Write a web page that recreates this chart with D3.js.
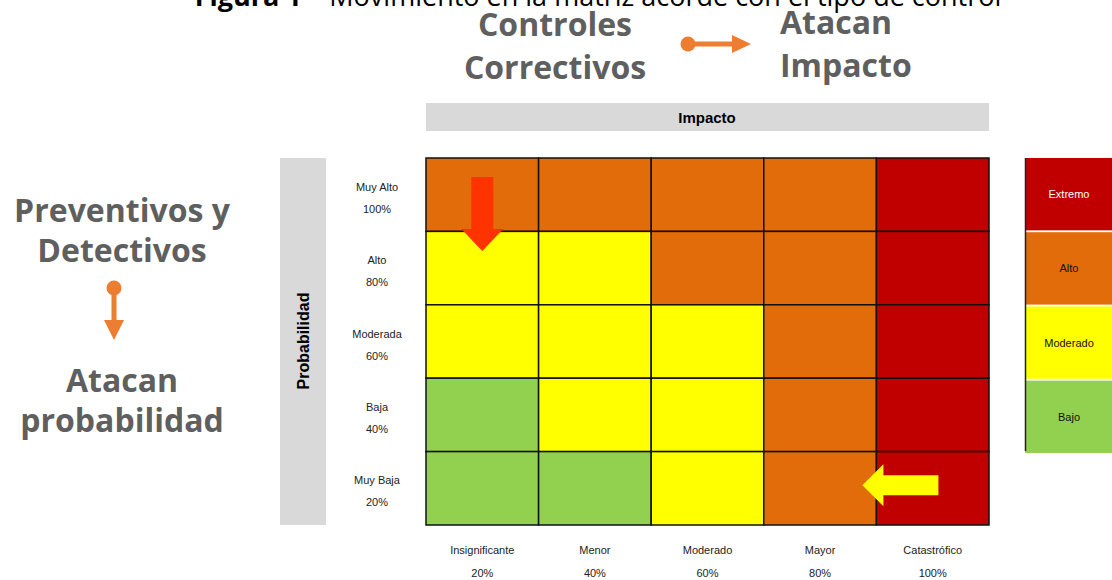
<!DOCTYPE html>
<html>
<head>
<meta charset="utf-8">
<script src="https://cdn.jsdelivr.net/npm/d3@7"></script>
<style>
  html, body { margin: 0; padding: 0; background: #fff; }
  svg { display: block; }
  .big { font-family: "Open Sans", sans-serif; font-weight: 700; fill: #5f5f5f; }
  .small { font-family: "Liberation Sans", Arial, sans-serif; font-size: 11px; fill: #222; }
</style>
</head>
<body>
<div id="chart"></div>
<script>
// ---------- Data ----------
const impactLabels = ['Insignificante', 'Menor', 'Moderado', 'Mayor', 'Catastrófico'];
const impactPct = ['20%', '40%', '60%', '80%', '100%'];
const probLabels = ['Muy Alto', 'Alto', 'Moderada', 'Baja', 'Muy Baja'];
const probPct = ['100%', '80%', '60%', '40%', '20%'];

// risk level per cell, rows top (Muy Alto) to bottom (Muy Baja)
const matrix = [
    ['Alto', 'Alto', 'Alto', 'Alto', 'Extremo'],
    ['Moderado', 'Moderado', 'Alto', 'Alto', 'Extremo'],
    ['Moderado', 'Moderado', 'Moderado', 'Alto', 'Extremo'],
    ['Bajo', 'Moderado', 'Moderado', 'Alto', 'Extremo'],
    ['Bajo', 'Bajo', 'Moderado', 'Alto', 'Extremo']
];

const levels = ['Extremo', 'Alto', 'Moderado', 'Bajo'];
const levelColors = ['#c00000', '#e26b0a', '#ffff00', '#92d050'];
const levelText = ['#ffffff', '#111111', '#111111', '#111111'];

const W = 1112, H = 580;
const svg = d3.select('#chart').append('svg').attr('width', W).attr('height', H);

const color = d3.scaleOrdinal().domain(levels).range(levelColors);

// ---------- Scales ----------
const x = d3.scaleBand().domain(d3.range(5)).range([426, 989]);
const y = d3.scaleBand().domain(d3.range(5)).range([158, 525]);

// ---------- Caption (cut at top) ----------
const cap = svg.append('text')
    .attr('x', 598).attr('y', 6)
    .attr('text-anchor', 'middle')
    .style('font-family', '"Open Sans", sans-serif')
    .style('font-size', '27px')
    .style('fill', '#000');
cap.append('tspan').style('font-weight', 700).text('Figura 1');
cap.append('tspan').text(' – Movimiento en la matriz acorde con el tipo de control');

// ---------- Headers ----------
svg.append('rect').attr('x', 426).attr('y', 103).attr('width', 563).attr('height', 28).attr('fill', '#d9d9d9');
svg.append('text').attr('x', 707).attr('y', 123).attr('text-anchor', 'middle')
    .style('font-family', '"Liberation Sans", Arial, sans-serif').style('font-weight', 700)
    .style('font-size', '15px').text('Impacto');

svg.append('rect').attr('x', 280).attr('y', 158).attr('width', 46).attr('height', 367).attr('fill', '#d9d9d9');
svg.append('text').attr('transform', 'translate(309,341) rotate(-90)').attr('text-anchor', 'middle')
    .style('font-family', '"Liberation Sans", Arial, sans-serif').style('font-weight', 700)
    .style('font-size', '16px').text('Probabilidad');

// ---------- Cells ----------
const cells = [];
matrix.forEach((row, r) => row.forEach((lvl, c) => cells.push({ r, c, lvl })));

svg.append('g').selectAll('rect')
    .data(cells)
    .join('rect')
    .attr('x', d => x(d.c))
    .attr('y', d => y(d.r))
    .attr('width', x.bandwidth())
    .attr('height', y.bandwidth())
    .attr('fill', d => color(d.lvl))
    .attr('stroke', '#111')
    .attr('stroke-width', 1.5);

// row labels
const rowLab = svg.append('g').selectAll('text')
    .data(probLabels)
    .join('text')
    .attr('class', 'small')
    .attr('text-anchor', 'middle')
    .attr('x', 377)
    .attr('y', (d, i) => y(i) + y.bandwidth() / 2 - 4);
rowLab.append('tspan').attr('x', 377).text(d => d);
rowLab.append('tspan').attr('x', 377).attr('dy', 22).text((d, i) => probPct[i]);

// column labels
const colLab = svg.append('g').selectAll('text')
    .data(impactLabels)
    .join('text')
    .attr('class', 'small')
    .attr('text-anchor', 'middle')
    .attr('y', 554);
colLab.append('tspan').attr('x', (d, i) => x(i) + x.bandwidth() / 2).text(d => d);
colLab.append('tspan').attr('x', (d, i) => x(i) + x.bandwidth() / 2).attr('dy', 23).text((d, i) => impactPct[i]);

// ---------- Legend ----------
const ly = d3.scaleBand().domain(levels).range([158, 453]).paddingInner(0.025);
const leg = svg.append('g').selectAll('g')
    .data(levels)
    .join('g');
leg.append('rect')
    .attr('x', 1025).attr('y', d => ly(d))
    .attr('width', 87).attr('height', ly.bandwidth())
    .attr('fill', d => color(d));
leg.append('text')
    .attr('class', 'small')
    .attr('x', 1069).attr('y', d => ly(d) + ly.bandwidth() / 2 + 4)
    .attr('text-anchor', 'middle')
    .style('fill', (d, i) => levelText[i])
    .text(d => d);
svg.append('line').attr('x1', 1025.5).attr('x2', 1025.5).attr('y1', 158).attr('y2', 451)
    .attr('stroke', '#222').attr('stroke-width', 1.5);

// ---------- Movement arrows in the matrix ----------
// down arrow (preventive / detective) in Muy Alto x Insignificante
const cx0 = x(0) + x.bandwidth() / 2;
svg.append('path')
    .attr('d', `M${cx0 - 11},${y(0) + 19} h22 v52 h10 l-21,22 l-21,-22 h10 z`)
    .attr('fill', '#ff3300');

// left arrow (corrective) in Muy Baja x Catastrófico
const ay = y(4) + y.bandwidth() / 2 - 3;
svg.append('path')
    .attr('d', `M${x(4) + 62},${ay - 10} v20 h-55 v11 l-21,-21 l21,-21 v11 z`)
    .attr('fill', '#ffff00');

// ---------- Side annotations ----------
const big = svg.append('g').attr('class', 'big').style('font-size', '32px');
big.append('text').attr('x', 555).attr('y', 36).attr('text-anchor', 'middle').text('Controles');
big.append('text').attr('x', 555).attr('y', 79).attr('text-anchor', 'middle').text('Correctivos');
big.append('text').attr('x', 780).attr('y', 34).text('Atacan');
big.append('text').attr('x', 780).attr('y', 77).text('Impacto');

big.append('text').attr('x', 122).attr('y', 222).attr('text-anchor', 'middle').text('Preventivos y');
big.append('text').attr('x', 122).attr('y', 262).attr('text-anchor', 'middle').text('Detectivos');
big.append('text').attr('x', 122).attr('y', 392).attr('text-anchor', 'middle').text('Atacan');
big.append('text').attr('x', 122).attr('y', 432).attr('text-anchor', 'middle').text('probabilidad');

const orange = '#ed7d31';
// horizontal connector
svg.append('circle').attr('cx', 688).attr('cy', 44).attr('r', 7.5).attr('fill', orange);
svg.append('rect').attr('x', 688).attr('y', 41.5).attr('width', 46).attr('height', 5).attr('fill', orange);
svg.append('path').attr('d', 'M732,35 L751,44 L732,53 Z').attr('fill', orange);
// vertical connector
svg.append('circle').attr('cx', 114).attr('cy', 288).attr('r', 7.5).attr('fill', orange);
svg.append('rect').attr('x', 111.5).attr('y', 288).attr('width', 5).attr('height', 34).attr('fill', orange);
svg.append('path').attr('d', 'M104,320 L124,320 L114,340 Z').attr('fill', orange);
</script>
</body>
</html>
